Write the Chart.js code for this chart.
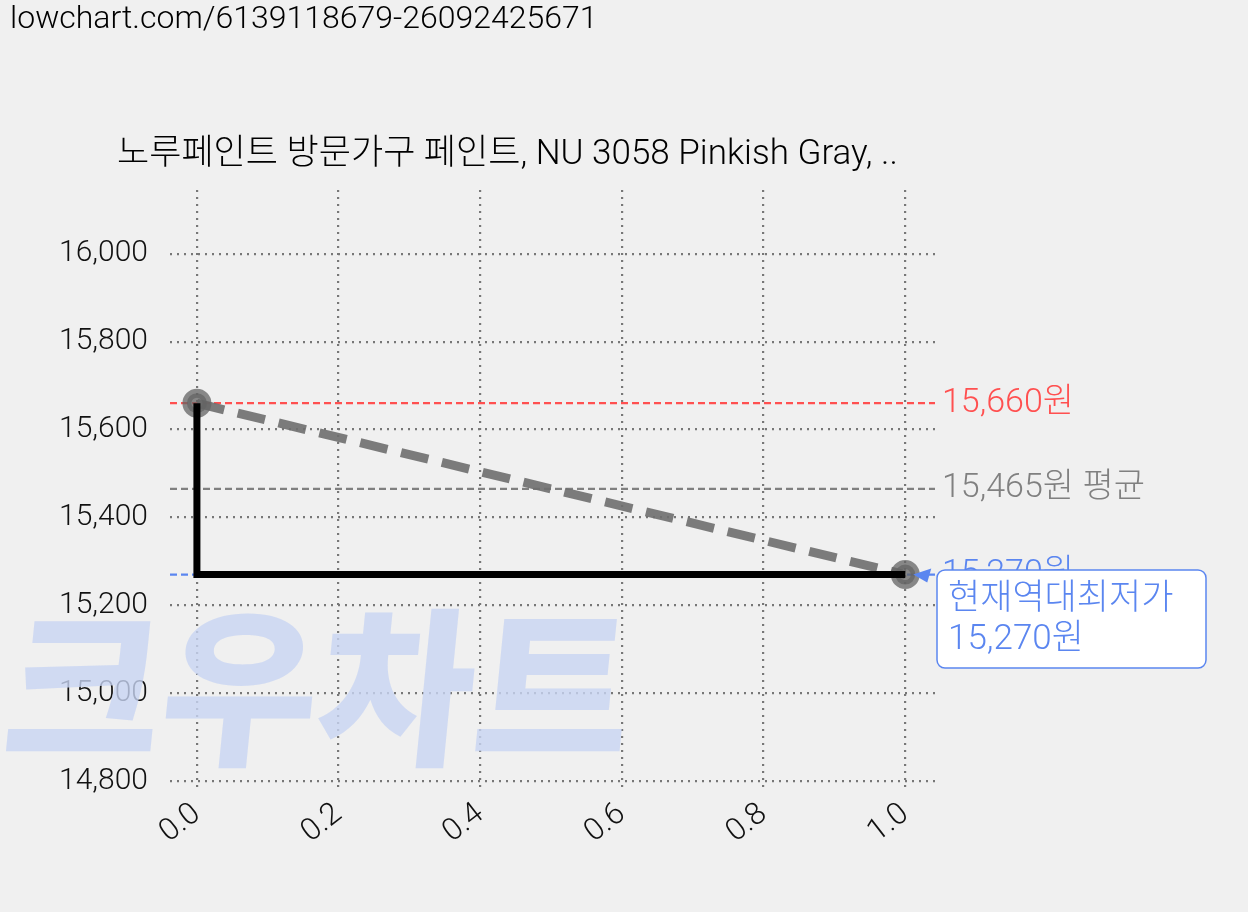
<!DOCTYPE html>
<html><head><meta charset="utf-8">
<script src="https://cdn.jsdelivr.net/npm/chart.js@4/dist/chart.umd.min.js"></script>
<style>body{margin:0;background:#f0f0f0}canvas{display:block}</style>
</head><body><canvas id="c" width="1248" height="912"></canvas>
<script>
const xTicks=[0,0.2,0.4,0.6,0.8,1.0];
const yTicks=[14800,15000,15200,15400,15600,15800,16000];
const stepX=[0,0,1];
const stepY=[15660,15270,15270];
const trendX=[0,1];
const trendY=[15660,15270];
const maxPrice=15660, avgPrice=15465, minPrice=15270;
const titleText='노루페인트 방문가구 페인트, NU 3058 Pinkish Gray, ..';
const urlText='lowchart.com/6139118679-26092425671';
const F='Roboto, "Noto Sans CJK KR", sans-serif';
const fmt=v=>v.toLocaleString('en-US');

const deco={id:'deco',
 beforeDraw(ch){const c=ch.ctx;c.save();c.fillStyle='#f0f0f0';c.fillRect(0,0,ch.width,ch.height);c.restore();},
 beforeDatasetsDraw(ch){const c=ch.ctx,a=ch.chartArea,y=ch.scales.y;c.save();
  c.font='900 170px "Noto Sans CJK KR", sans-serif';c.fillStyle='rgba(200,213,243,0.8)';c.textBaseline='alphabetic';
  c.save();c.transform(1,0,-0.1,1,0,0);c.fillText('크우차트',75,752);c.restore();
  const h=(v,col)=>{c.strokeStyle=col;c.lineWidth=2.2;c.setLineDash([7,4]);c.beginPath();c.moveTo(a.left,y.getPixelForValue(v));c.lineTo(a.right,y.getPixelForValue(v));c.stroke();};
  h(maxPrice,'#ff5050');h(avgPrice,'#808080');h(minPrice,'#5b86f0');
  c.restore();},
 afterDraw(ch){const c=ch.ctx,a=ch.chartArea,y=ch.scales.y,x=ch.scales.x;c.save();
  c.font='300 34px '+F;c.textBaseline='middle';c.textAlign='left';
  c.fillStyle='#ff5050';c.fillText(fmt(maxPrice)+'원',942,y.getPixelForValue(maxPrice));
  c.fillStyle='#808080';c.fillText(fmt(avgPrice)+'원 평균',942,y.getPixelForValue(avgPrice));
  c.fillStyle='#5b86f0';c.fillText(fmt(minPrice)+'원',942,y.getPixelForValue(minPrice));
  const bx=937,by=570,bw=269,bh=98;
  c.fillStyle='#fff';c.strokeStyle='#5b86f0';c.lineWidth=1.5;c.setLineDash([]);
  c.beginPath();c.roundRect(bx,by,bw,bh,8);c.fill();c.stroke();
  const px=x.getPixelForValue(1),py=y.getPixelForValue(minPrice);
  c.fillStyle='#5b86f0';c.beginPath();c.moveTo(px+8,py);c.lineTo(px+26,py-6);c.lineTo(px+22,py+8);c.fill();
  c.textBaseline='alphabetic';c.font='300 35px '+F;
  c.fillText('현재역대최저가',948,609);c.fillText(fmt(minPrice)+'원',948,649);
  c.fillStyle='#000';c.font='300 32px '+F;c.fillText(urlText,10,28);
  c.font='300 35px '+F;c.fillText(titleText,117,164);
  c.restore();}
};

const grid={color:'#777',lineWidth:2.2,tickLength:0};
const bord={display:false,dash:[2,5]};
new Chart(document.getElementById('c'),{type:'scatter',
 data:{datasets:[
  {data:stepX.map((v,i)=>({x:v,y:stepY[i]})),showLine:true,borderColor:'#000',borderWidth:7,pointRadius:0,fill:false},
  {data:trendX.map((v,i)=>({x:v,y:trendY[i]})),showLine:true,borderColor:'rgba(110,110,110,0.9)',borderWidth:9,borderDash:[28,14],pointRadius:10,pointBackgroundColor:'rgba(100,100,100,0.75)',pointBorderColor:'rgba(100,100,100,0.75)'}
 ]},
 plugins:[deco],
 options:{responsive:false,animation:false,layout:{padding:{left:0,right:313,top:190,bottom:0}},
  plugins:{legend:{display:false},tooltip:{enabled:false}},
  scales:{
   x:{type:'linear',min:-0.038,max:1.042,border:bord,grid:grid,
    afterBuildTicks(s){s.ticks=xTicks.map(v=>({value:v}));},
    afterFit(s){s.height=122;},
    ticks:{color:'#111',font:{family:F,size:31,weight:300},minRotation:38,maxRotation:38,padding:6,callback:v=>v.toFixed(1)}},
   y:{min:14780,max:16145,border:bord,grid:grid,
    afterBuildTicks(s){s.ticks=yTicks.map(v=>({value:v}));},
    afterFit(s){s.width=170;},
    ticks:{color:'#111',font:{family:F,size:30,weight:300},padding:22,callback:v=>fmt(v)}}
  }}
});
</script></body></html>
